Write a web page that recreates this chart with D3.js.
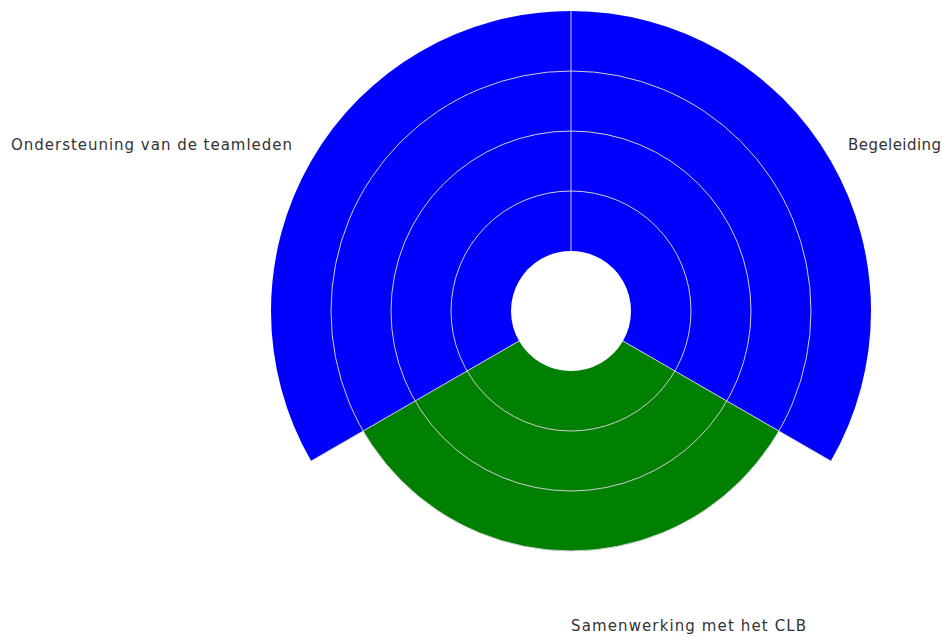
<!DOCTYPE html>
<html><head><meta charset="utf-8">
<script src="https://cdn.jsdelivr.net/npm/d3@7"></script>
<style>body{margin:0;background:#fff}svg{display:block}</style>
</head><body>
<svg id="c" width="942" height="637"></svg>
<script>
const categories = ["Begeleiding", "Samenwerking met het CLB", "Ondersteuning van de teamleden"];
const values = [4, 3, 4];
const colors = ["#0000ff", "#008000", "#0000ff"];
const radialTicks = [1, 2, 3];

const W = 942, H = 637, cx = 571, cy = 311;
const svg = d3.select("#c");
const g = svg.append("g").attr("transform", `translate(${cx},${cy})`);

const r = d3.scaleLinear().domain([0, 4]).range([60, 300]);
const a = d3.scaleLinear().domain([0, categories.length]).range([0, 2 * Math.PI]);

const arc = d3.arc()
  .innerRadius(r(0))
  .outerRadius(d => r(d.v))
  .startAngle(d => a(d.i))
  .endAngle(d => a(d.i + 1));

const data = categories.map((c, i) => ({c, i, v: values[i]}));
g.selectAll("path.bar").data(data).join("path")
  .attr("class", "bar")
  .attr("d", arc)
  .attr("fill", (d, i) => colors[i]);

g.selectAll("circle.grid").data(radialTicks).join("circle")
  .attr("r", d => r(d)).attr("fill", "none")
  .attr("stroke", "#cfcfcf").attr("stroke-width", 1);
g.selectAll("line.spoke").data(d3.range(categories.length)).join("line")
  .attr("x1", i => r(0) * Math.sin(a(i))).attr("y1", i => -r(0) * Math.cos(a(i)))
  .attr("x2", i => r(4) * Math.sin(a(i))).attr("y2", i => -r(4) * Math.cos(a(i)))
  .attr("stroke", "#cfcfcf").attr("stroke-width", 1);

const labelPos = [
  {x: 848 - cx, y: 145 - cy, anchor: "start", w: 93},
  {x: 0, y: 626 - cy, anchor: "start", w: 235},
  {x: 292 - cx, y: 145 - cy, anchor: "end", w: 281}
];
g.selectAll("text.lbl").data(data).join("text")
  .attr("class", "lbl")
  .attr("x", d => labelPos[d.i].x).attr("y", d => labelPos[d.i].y)
  .attr("text-anchor", d => labelPos[d.i].anchor)
  .attr("dominant-baseline", "central")
  .attr("font-family", "DejaVu Sans")
  .attr("font-size", 15)
  .attr("textLength", d => labelPos[d.i].w)
  .attr("lengthAdjust", "spacing")
  .attr("fill", "#333")
  .text(d => d.c);
</script>
</body></html>
